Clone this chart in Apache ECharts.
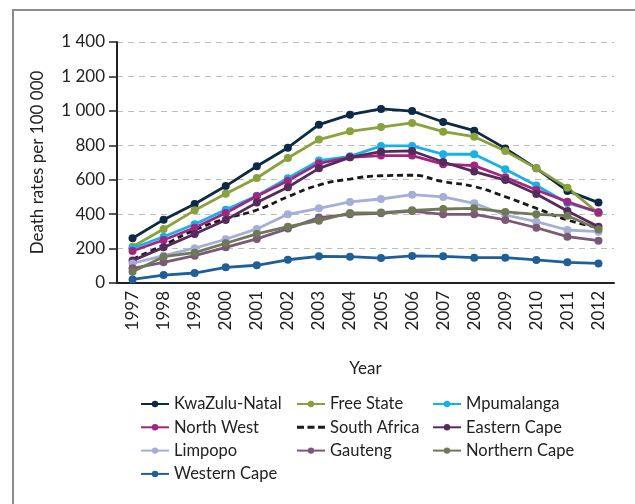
<!DOCTYPE html>
<html>
<head>
<meta charset="utf-8">
<title>Death rates by province</title>
<script src="https://cdn.jsdelivr.net/npm/echarts@6/dist/echarts.min.js"></script>
<style>
  html, body { margin: 0; padding: 0; background: #fff; }
  #chart { width: 635px; height: 504px; }
</style>
</head>
<body>
<div id="chart"></div>
<script>
// tick labels as printed on the source (note the repeated 1998)
var years = ['1997', '1998', '1998', '2000', '2001', '2002', '2003', '2004',
             '2005', '2006', '2007', '2008', '2009', '2010', '2011', '2012'];

var kwaZuluNatal = [260, 368, 459, 563, 678, 786, 920, 978, 1011, 999, 935, 885, 782, 666, 535, 467];
var freeState    = [211, 314, 422, 519, 610, 726, 833, 881, 906, 930, 879, 850, 767, 666, 554, 405];
var mpumalanga   = [202, 269, 341, 426, 507, 608, 711, 736, 796, 796, 748, 748, 661, 566, 465, 411];
var northWest    = [186, 250, 321, 407, 504, 594, 695, 730, 740, 740, 690, 682, 614, 540, 472, 411];
var southAfrica  = [138, 221, 308, 374, 424, 501, 569, 604, 623, 626, 589, 560, 501, 434, 366, 322];
var easternCape  = [130, 207, 285, 366, 467, 556, 666, 730, 763, 767, 703, 647, 598, 517, 418, 327];
var limpopo      = [114, 159, 202, 254, 314, 399, 434, 471, 488, 513, 500, 463, 395, 356, 308, 298];
var gauteng      = [85, 120, 159, 207, 256, 316, 380, 399, 405, 418, 399, 399, 366, 321, 269, 246];
var northernCape = [66, 153, 176, 231, 285, 327, 362, 407, 409, 422, 430, 434, 413, 399, 391, 312];
var westernCape  = [21, 46, 58, 91, 103, 135, 155, 153, 145, 157, 155, 147, 147, 134, 120, 114];

var font = 'Lato';
// three dashes in a 28x8 box (tiny corner dots keep the box size)
var dashIcon = 'path://M0,0h0.1v0.1h-0.1z M0,2.5h7v3h-7z M10.5,2.5h7v3h-7z M21,2.5h7v3h-7z M27.9,7.9h0.1v0.1h-0.1z';

function line(name, data, color) {
    return {
        name: name,
        type: 'line',
        data: data,
        symbol: 'circle',
        symbolSize: 8,
        lineStyle: { color: color, width: 2.8 },
        itemStyle: { color: color },
        z: 3
    };
}

var chart = echarts.init(document.getElementById('chart'));

var legendBase = {
    orient: 'vertical',
    top: 394,
    padding: 0,
    itemWidth: 28,
    itemHeight: 8,
    itemGap: 3.3,
    textStyle: { fontFamily: font, fontSize: 16.5, lineHeight: 20, color: '#222' }
};

chart.setOption({
    animation: false,
    backgroundColor: '#fff',
    graphic: [{
        type: 'rect',
        shape: { x: 13, y: 10, width: 700, height: 600 },
        style: { fill: 'none', stroke: '#8c8c8c', lineWidth: 2 },
        silent: true
    }],
    grid: { left: 117, right: 21, top: 42, bottom: 221 },
    legend: [
        Object.assign({ left: 140, data: ['KwaZulu-Natal', 'North West', 'Limpopo', 'Western Cape'] }, legendBase),
        Object.assign({ left: 296, data: ['Free State', { name: 'South Africa', icon: dashIcon, itemStyle: { color: '#1a1a1a' } }, 'Gauteng'] }, legendBase),
        Object.assign({ left: 432, data: ['Mpumalanga', 'Eastern Cape', 'Northern Cape'] }, legendBase)
    ],
    xAxis: {
        type: 'category',
        data: years,
        boundaryGap: true,
        name: 'Year',
        nameLocation: 'middle',
        nameGap: 77,
        nameTextStyle: { fontFamily: font, fontSize: 17, color: '#222' },
        axisLine: { lineStyle: { color: '#222', width: 2 } },
        axisTick: { show: false },
        axisLabel: { rotate: 90, margin: 8, fontFamily: font, fontSize: 17, color: '#222', interval: 0 }
    },
    yAxis: {
        type: 'value',
        min: 0,
        max: 1400,
        interval: 200,
        name: 'Death rates per 100 000',
        nameLocation: 'middle',
        nameGap: 71,
        nameTextStyle: { fontFamily: font, fontSize: 17, color: '#222' },
        axisLine: { show: true, lineStyle: { color: '#222', width: 2 } },
        axisTick: { show: true, length: 8, lineStyle: { color: '#222', width: 1.5 } },
        axisLabel: {
            margin: 12,
            fontFamily: font,
            fontSize: 17,
            color: '#222',
            formatter: function (v) {
                return String(v).replace(/\B(?=(\d{3})+(?!\d))/g, ' ');
            }
        },
        splitLine: { lineStyle: { color: '#bdbdbd', type: [6, 5], width: 1.2 } }
    },
    series: [
        line('KwaZulu-Natal', kwaZuluNatal, '#0c2a48'),
        line('Free State', freeState, '#8aa23a'),
        line('Mpumalanga', mpumalanga, '#16b1ea'),
        line('North West', northWest, '#a3257f'),
        {
            name: 'South Africa',
            type: 'line',
            data: southAfrica,
            smooth: true,
            symbol: 'none',
            lineStyle: { color: '#1a1a1a', width: 2.8, type: [6, 4] },
            itemStyle: { color: '#1a1a1a' },
            z: 2
        },
        line('Eastern Cape', easternCape, '#572a5c'),
        line('Limpopo', limpopo, '#a4aed6'),
        line('Gauteng', gauteng, '#7c5877'),
        line('Northern Cape', northernCape, '#6f7958'),
        line('Western Cape', westernCape, '#1e5f99')
    ]
});
</script>
</body>
</html>
